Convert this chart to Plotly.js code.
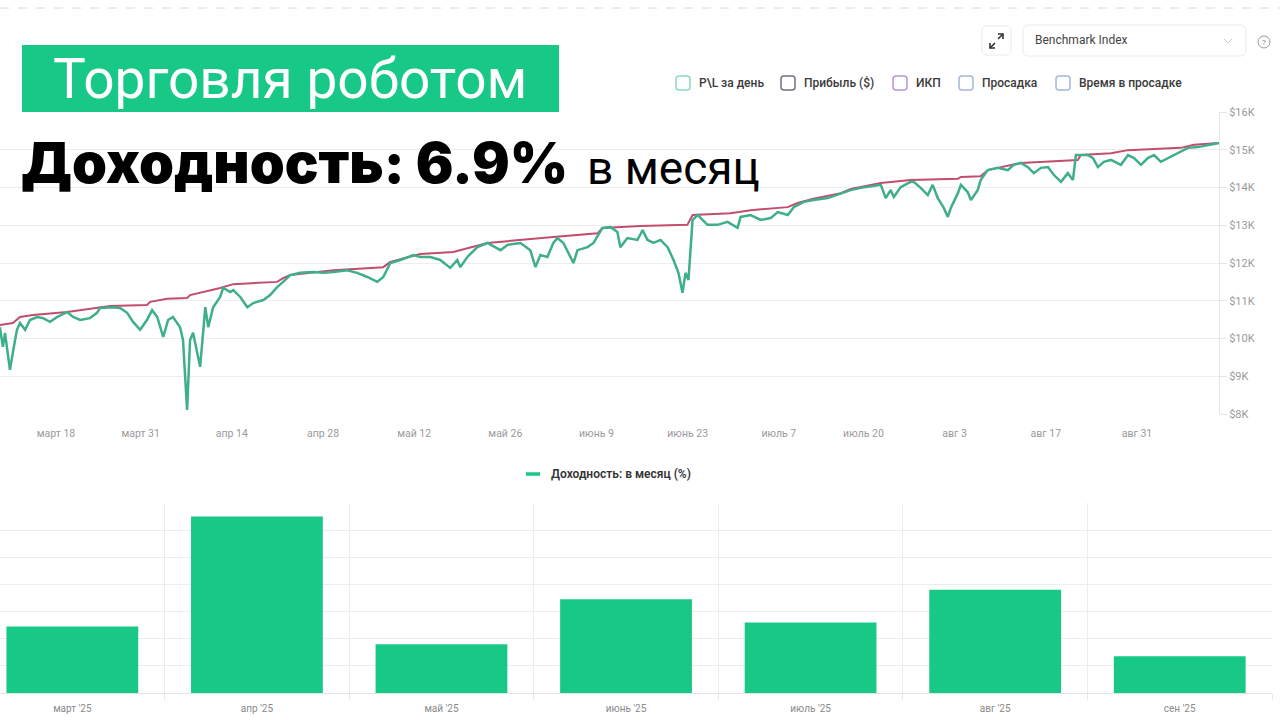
<!DOCTYPE html>
<html><head><meta charset="utf-8">
<script src="https://cdn.plot.ly/plotly-3.0.1.min.js"></script>
<style>html,body{margin:0;padding:0;background:#fff;}#chart{width:1280px;height:720px;}</style>
</head><body><div id="chart"></div>
<script>
// ---- DATA ----
const equityDates = ["2025-03-09 09:00","2025-03-09 20:00","2025-03-10 04:00","2025-03-10 22:00","2025-03-11 17:00","2025-03-12 00:00","2025-03-12 11:00","2025-03-13 06:00","2025-03-14 00:00","2025-03-15 02:00","2025-03-16 00:00","2025-03-17 02:00","2025-03-18 04:00","2025-03-19 17:00","2025-03-20 15:00","2025-03-21 17:00","2025-03-23 05:00","2025-03-24 07:00","2025-03-24 18:00","2025-03-26 18:00","2025-03-27 20:00","2025-03-28 22:00","2025-03-29 20:00","2025-03-30 22:00","2025-03-31 23:00","2025-04-01 18:00","2025-04-02 13:00","2025-04-03 11:00","2025-04-04 05:00","2025-04-04 23:00","2025-04-06 01:00","2025-04-06 12:00","2025-04-07 03:00","2025-04-07 14:00","2025-04-08 01:00","2025-04-08 16:00","2025-04-09 03:00","2025-04-09 14:00","2025-04-09 22:00","2025-04-10 09:00","2025-04-11 03:00","2025-04-12 05:00","2025-04-12 16:00","2025-04-13 18:00","2025-04-14 05:00","2025-04-15 07:00","2025-04-16 09:00","2025-04-17 07:00","2025-04-18 20:00","2025-04-19 21:00","2025-04-20 23:00","2025-04-21 21:00","2025-04-22 23:00","2025-04-24 12:00","2025-04-26 12:00","2025-04-28 01:00","2025-04-29 14:00","2025-05-01 17:00","2025-05-03 06:00","2025-05-04 19:00","2025-05-06 08:00","2025-05-07 06:00","2025-05-08 08:00","2025-05-09 21:00","2025-05-11 21:00","2025-05-12 23:00","2025-05-14 12:00","2025-05-16 00:00","2025-05-17 13:00","2025-05-18 15:00","2025-05-19 02:00","2025-05-20 04:00","2025-05-21 17:00","2025-05-23 06:00","2025-05-25 06:00","2025-05-26 08:00","2025-05-28 08:00","2025-05-29 20:00","2025-05-30 15:00","2025-05-31 09:00","2025-06-01 11:00","2025-06-02 09:00","2025-06-03 00:00","2025-06-03 22:00","2025-06-05 11:00","2025-06-06 02:00","2025-06-07 15:00","2025-06-08 13:00","2025-06-09 22:00","2025-06-11 04:00","2025-06-12 05:00","2025-06-12 16:00","2025-06-13 18:00","2025-06-15 07:00","2025-06-16 02:00","2025-06-16 20:00","2025-06-17 18:00","2025-06-18 20:00","2025-06-19 22:00","2025-06-20 20:00","2025-06-21 14:00","2025-06-22 05:00","2025-06-22 16:00","2025-06-23 03:00","2025-06-23 18:00","2025-06-24 13:00","2025-06-26 01:00","2025-06-27 14:00","2025-06-29 03:00","2025-06-30 16:00","2025-07-01 03:00","2025-07-02 16:00","2025-07-04 05:00","2025-07-05 18:00","2025-07-06 20:00","2025-07-08 09:00","2025-07-09 07:00","2025-07-10 20:00","2025-07-12 08:00","2025-07-14 12:00","2025-07-16 12:00","2025-07-18 01:00","2025-07-19 14:00","2025-07-21 03:00","2025-07-22 16:00","2025-07-23 10:00","2025-07-24 04:00","2025-07-24 16:00","2025-07-25 17:00","2025-07-27 06:00","2025-07-27 17:00","2025-07-28 19:00","2025-07-29 21:00","2025-07-30 15:00","2025-07-31 10:00","2025-08-01 08:00","2025-08-01 23:00","2025-08-02 10:00","2025-08-03 12:00","2025-08-03 23:00","2025-08-05 00:00","2025-08-05 12:00","2025-08-06 13:00","2025-08-07 00:00","2025-08-08 02:00","2025-08-09 15:00","2025-08-11 04:00","2025-08-12 02:00","2025-08-13 04:00","2025-08-14 06:00","2025-08-15 04:00","2025-08-16 06:00","2025-08-17 08:00","2025-08-18 06:00","2025-08-19 08:00","2025-08-20 09:00","2025-08-21 04:00","2025-08-21 15:00","2025-08-23 11:00","2025-08-24 06:00","2025-08-25 00:00","2025-08-25 22:00","2025-08-27 00:00","2025-08-28 13:00","2025-08-29 15:00","2025-08-30 13:00","2025-08-31 15:00","2025-09-01 16:00","2025-09-02 15:00","2025-09-03 16:00","2025-09-04 18:00","2025-09-06 07:00","2025-09-07 20:00","2025-09-09 09:00","2025-09-10 22:00","2025-09-12 14:00"];
const equityValues = [10300,9780,10150,9170,9960,10230,10410,10230,10490,10570,10540,10440,10570,10700,10570,10490,10540,10680,10810,10830,10810,10680,10440,10230,10490,10750,10570,10040,10490,10570,10300,9960,8110,9960,10150,9620,9250,10150,10830,10300,10830,11100,11340,11230,11280,11100,10830,10940,11020,11150,11360,11500,11680,11740,11760,11740,11760,11810,11740,11630,11500,11630,12000,12080,12210,12160,12160,12080,11870,12080,11890,12160,12420,12530,12340,12480,12530,12340,11890,12210,12160,12530,12660,12530,12000,12340,12420,12530,12930,12950,12820,12420,12660,12610,12870,12610,12530,12610,12420,12080,11740,11210,11740,11550,13140,13270,13010,13010,13090,12930,13220,13270,13140,13190,13350,13270,13480,13620,13670,13720,13850,13930,13990,14040,14070,13720,13930,13750,14010,14150,14150,13990,13800,14070,13720,13460,13220,13460,13850,14070,13880,13670,13930,14200,14460,14520,14460,14600,14650,14540,14380,14520,14540,14330,14150,14380,14200,14860,14860,14780,14540,14680,14730,14600,14860,14780,14600,14780,14860,14680,14780,14910,15050,15070,15130,15180];
const peakDates = ["2025-03-09 09:00","2025-03-11 09:00","2025-03-12 11:00","2025-03-14 11:00","2025-03-19 17:00","2025-03-24 07:00","2025-03-26 07:00","2025-03-31 23:00","2025-04-01 11:00","2025-04-04 01:00","2025-04-07 03:00","2025-04-07 14:00","2025-04-09 14:00","2025-04-12 05:00","2025-04-14 05:00","2025-04-20 23:00","2025-04-21 21:00","2025-04-22 23:00","2025-04-29 14:00","2025-05-07 06:00","2025-05-08 08:00","2025-05-12 23:00","2025-05-18 00:00","2025-05-21 02:00","2025-05-23 06:00","2025-06-02 09:00","2025-06-09 04:00","2025-06-09 22:00","2025-06-15 18:00","2025-06-22 23:00","2025-06-23 18:00","2025-06-29 14:00","2025-07-02 16:00","2025-07-08 09:00","2025-07-09 21:00","2025-07-12 08:00","2025-07-16 12:00","2025-07-18 01:00","2025-07-22 16:00","2025-07-27 06:00","2025-08-03 12:00","2025-08-03 23:00","2025-08-07 00:00","2025-08-08 02:00","2025-08-13 04:00","2025-08-21 22:00","2025-08-22 09:00","2025-08-27 00:00","2025-08-29 15:00","2025-09-02 15:00","2025-09-06 18:00","2025-09-08 18:00","2025-09-12 14:00"];
const peakValues = [10360,10410,10570,10620,10700,10810,10860,10890,10970,11050,11070,11150,11230,11340,11440,11500,11600,11680,11810,11890,12030,12240,12290,12420,12530,12690,12790,12930,12980,13010,13270,13320,13400,13480,13590,13700,13850,13960,14120,14200,14230,14280,14300,14460,14650,14730,14860,14910,14990,15020,15050,15130,15180];
const xTickVals = ["2025-03-18","2025-03-31","2025-04-14","2025-04-28","2025-05-12","2025-05-26","2025-06-09","2025-06-23","2025-07-07","2025-07-20","2025-08-03","2025-08-17","2025-08-31"];
const xTickText = ["март 18","март 31","апр 14","апр 28","май 12","май 26","июнь 9","июнь 23","июль 7","июль 20","авг 3","авг 17","авг 31"];
const yTickVals = [8000,9000,10000,11000,12000,13000,14000,15000,16000];
const yTickText = ["$8K","$9K","$10K","$11K","$12K","$13K","$14K","$15K","$16K"];
const months = ["март '25","апр '25","май '25","июнь '25","июль '25","авг '25","сен '25"];
const monthlyReturns = [4.9, 13.0, 3.6, 6.9, 5.2, 7.6, 2.7];
const topLegendLabels = ["P\\L за день","Прибыль ($)","ИКП","Просадка","Время в просадке"];
const topLegendColors = ["#8adbb9","#70737f","#b995d8","#a3b6e4","#a3b6e4"];

// ---- helpers (pixel -> paper) ----
const W = 1280, H = 720;
const X = x => x / W;
const Y = y => 1 - y / H;
function rrect(x0, y0, x1, y1, r) {
  const p = (x, y) => X(x).toFixed(5) + ',' + Y(y).toFixed(5);
  return 'M' + p(x0 + r, y0) + ' L' + p(x1 - r, y0) + ' Q' + p(x1, y0) + ' ' + p(x1, y0 + r) +
    ' L' + p(x1, y1 - r) + ' Q' + p(x1, y1) + ' ' + p(x1 - r, y1) +
    ' L' + p(x0 + r, y1) + ' Q' + p(x0, y1) + ' ' + p(x0, y1 - r) +
    ' L' + p(x0, y0 + r) + ' Q' + p(x0, y0) + ' ' + p(x0 + r, y0) + ' Z';
}
function pline(pts) {
  return pts.map((q, i) => (i ? 'L' : 'M') + X(q[0]).toFixed(5) + ',' + Y(q[1]).toFixed(5)).join(' ');
}

const FONT = "Roboto, 'Open Sans', sans-serif";
const GREEN = '#18c886';

const traces = [
  { type: 'scatter', mode: 'lines', x: peakDates, y: peakValues, xaxis: 'x', yaxis: 'y',
    line: { color: '#c24d6c', width: 2 }, hoverinfo: 'skip', showlegend: false },
  { type: 'scatter', mode: 'lines', x: equityDates, y: equityValues, xaxis: 'x', yaxis: 'y',
    line: { color: '#3fae8a', width: 2.5 }, hoverinfo: 'skip', showlegend: false },
  { type: 'bar', x: months, y: monthlyReturns, xaxis: 'x2', yaxis: 'y2',
    marker: { color: GREEN }, hoverinfo: 'skip', showlegend: false }
];

const shapes = [];
const annotations = [];

// dashed top line
shapes.push({ type: 'line', xref: 'paper', yref: 'paper', x0: 0, x1: 1, y0: Y(8), y1: Y(8),
  line: { color: '#d8d8d8', width: 1, dash: 'dash' } });
// green banner
shapes.push({ type: 'rect', xref: 'paper', yref: 'paper', x0: X(22), x1: X(559), y0: Y(112), y1: Y(45),
  fillcolor: GREEN, line: { width: 0 }, layer: 'above' });
annotations.push({ xref: 'paper', yref: 'paper', x: X(290), y: Y(79), xanchor: 'center', yanchor: 'middle',
  text: 'Торговля роботом', showarrow: false, font: { family: FONT, size: 55, color: '#ffffff' } });
annotations.push({ xref: 'paper', yref: 'paper', x: X(19), y: Y(163), xanchor: 'left', yanchor: 'middle',
  text: 'Доходность: 6.9%', showarrow: false, font: { family: "Inter, 'Liberation Sans', sans-serif", size: 56, color: '#000000', weight: 900 } });
annotations.push({ xref: 'paper', yref: 'paper', x: X(585), y: Y(168), xanchor: 'left', yanchor: 'middle',
  text: 'в месяц', showarrow: false, font: { family: FONT, size: 46, color: '#000000' } });

// top-right controls
shapes.push({ type: 'path', xref: 'paper', yref: 'paper', path: rrect(982, 26, 1011, 55, 5),
  line: { color: '#ebebeb', width: 1 }, fillcolor: '#ffffff' });
shapes.push({ type: 'path', xref: 'paper', yref: 'paper', path: pline([[990, 48], [995, 43]]), line: { color: '#333', width: 1.6 } });
shapes.push({ type: 'path', xref: 'paper', yref: 'paper', path: pline([[990, 43], [990, 48], [995, 48]]), line: { color: '#333', width: 1.6 } });
shapes.push({ type: 'path', xref: 'paper', yref: 'paper', path: pline([[998, 39], [1003, 34]]), line: { color: '#333', width: 1.6 } });
shapes.push({ type: 'path', xref: 'paper', yref: 'paper', path: pline([[998, 34], [1003, 34], [1003, 39]]), line: { color: '#333', width: 1.6 } });
shapes.push({ type: 'path', xref: 'paper', yref: 'paper', path: rrect(1023, 25, 1246, 56, 6),
  line: { color: '#ebebeb', width: 1 }, fillcolor: '#ffffff' });
annotations.push({ xref: 'paper', yref: 'paper', x: X(1033), y: Y(40), xanchor: 'left', yanchor: 'middle',
  text: 'Benchmark Index', showarrow: false, font: { family: FONT, size: 12, color: '#444' } });
shapes.push({ type: 'path', xref: 'paper', yref: 'paper', path: pline([[1224, 39], [1228, 43], [1232, 39]]), line: { color: '#c8c8c8', width: 1 } });
shapes.push({ type: 'circle', xref: 'paper', yref: 'paper', x0: X(1258), x1: X(1270), y0: Y(48), y1: Y(36),
  line: { color: '#999', width: 1 } });
annotations.push({ xref: 'paper', yref: 'paper', x: X(1264), y: Y(42), xanchor: 'center', yanchor: 'middle',
  text: '?', showarrow: false, font: { family: FONT, size: 8, color: '#888' } });

// top legend (outlined squares)
const legX = [676, 781, 893, 959, 1056];
topLegendLabels.forEach((lab, i) => {
  const x0 = legX[i];
  shapes.push({ type: 'path', xref: 'paper', yref: 'paper', path: rrect(x0, 76, x0 + 14, 90, 3),
    line: { color: topLegendColors[i], width: 1.5 }, fillcolor: '#ffffff' });
  annotations.push({ xref: 'paper', yref: 'paper', x: X(x0 + 21), y: Y(83), xanchor: 'left', yanchor: 'middle',
    text: lab, showarrow: false, font: { family: FONT, size: 12, color: '#3a3a3a', weight: 500 } });
});

// bottom legend
shapes.push({ type: 'line', xref: 'paper', yref: 'paper', x0: X(526), x1: X(540), y0: Y(474), y1: Y(474),
  line: { color: GREEN, width: 3.5 } });
annotations.push({ xref: 'paper', yref: 'paper', x: X(549), y: Y(474), xanchor: 'left', yanchor: 'middle',
  text: 'Доходность: в месяц (%)', showarrow: false, font: { family: FONT, size: 12, color: '#333', weight: 600 } });

const layout = {
  width: W, height: H,
  margin: { l: 0, r: 0, t: 0, b: 0 },
  paper_bgcolor: '#ffffff', plot_bgcolor: '#ffffff',
  showlegend: false,
  xaxis: {
    type: 'date', domain: [0, X(1219)], anchor: 'y',
    range: ['2025-03-09 09:26', '2025-09-12 14:24'],
    tickmode: 'array', tickvals: xTickVals, ticktext: xTickText,
    showgrid: false, zeroline: false, showline: false,
    ticks: 'outside', ticklen: 9, tickcolor: 'rgba(0,0,0,0)',
    tickfont: { family: FONT, size: 10.5, color: '#9a9a9a' }
  },
  yaxis: {
    domain: [Y(414), Y(112)], anchor: 'x', side: 'right',
    range: [8000, 16000],
    tickmode: 'array', tickvals: yTickVals, ticktext: yTickText,
    showgrid: true, gridcolor: '#ededed', gridwidth: 1, zeroline: false,
    showline: true, linecolor: '#e6e6e6', mirror: false,
    ticks: 'outside', ticklen: 7, tickcolor: '#e6e6e6',
    tickfont: { family: FONT, size: 11, color: '#9a9a9a' }
  },
  xaxis2: {
    type: 'category', domain: [0, X(1272)], anchor: 'y2',
    range: [-0.392, 6.5],
    tickson: 'boundaries', showgrid: true, gridcolor: '#ededed',
    ticks: 'outside', ticklen: 6, tickcolor: '#e6e6e6', ticklabelstandoff: 6,
    showline: true, linecolor: '#e3e3e3', zeroline: false,
    tickfont: { family: FONT, size: 10, color: '#8a8a8a' }
  },
  yaxis2: {
    domain: [Y(693), Y(503)], anchor: 'x2',
    range: [0, 14], dtick: 2, showticklabels: false,
    showgrid: true, gridcolor: '#ededed', zeroline: false, showline: false
  },
  bargap: 0.286,
  shapes: shapes,
  annotations: annotations
};

Plotly.newPlot('chart', traces, layout, { staticPlot: true, displayModeBar: false });
</script>
</body></html>
